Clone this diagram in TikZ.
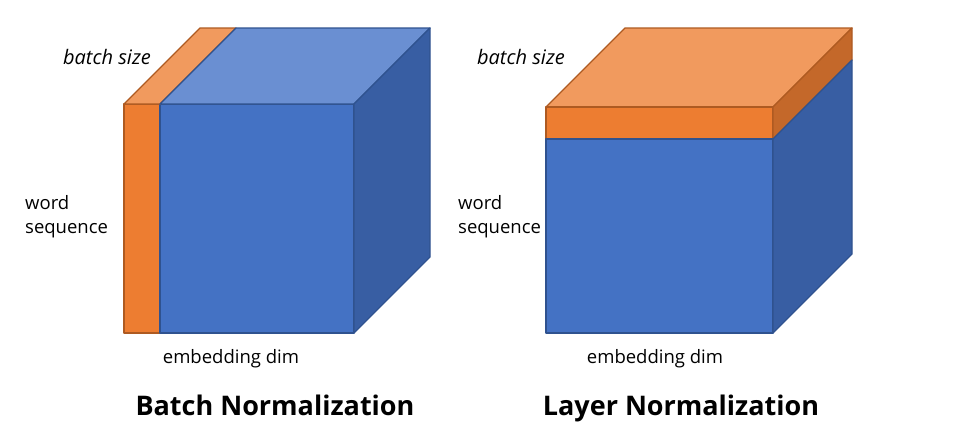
\documentclass[tikz,border=0pt]{standalone}
\usepackage{fontspec}
\setmainfont{Open Sans}
\definecolor{bluefront}{HTML}{4472C4}
\definecolor{bluetop}{HTML}{6A8FD2}
\definecolor{blueside}{HTML}{385EA3}
\definecolor{blueedge}{HTML}{2F528F}
\definecolor{orangefront}{HTML}{ED7D31}
\definecolor{orangetop}{HTML}{F19A5E}
\definecolor{orangeside}{HTML}{C4682A}
\definecolor{orangeedge}{HTML}{AE5A21}

\tikzset{
  bluepart/.style={fill=#1,draw=blueedge,line width=1.3pt,line join=round},
  orangepart/.style={fill=#1,draw=orangeedge,line width=1.3pt,line join=round},
  axislabel/.style={font=\fontsize{18.5}{24}\selectfont,inner sep=0pt},
  titlelabel/.style={font=\fontsize{27}{32}\selectfont\bfseries,inner sep=0pt,anchor=base}
}

\begin{document}
\begin{tikzpicture}[x=1pt,y=-1pt]
  \useasboundingbox (0,0) rectangle (959,440);

  % batch normalization cube
  \pgfmathsetmacro{\dL}{76}
  \draw[orangepart=orangefront] (124,104) rectangle (160,333);
  \draw[bluepart=bluefront] (160,104) rectangle (354,333);
  \draw[orangepart=orangetop] (124,104) -- ++(\dL,-\dL) -- (236,28) -- (160,104) -- cycle;
  \draw[bluepart=bluetop] (160,104) -- (236,28) -- (430,28) -- (354,104) -- cycle;
  \draw[bluepart=blueside] (354,104) -- ++(\dL,-\dL) -- (430,257) -- (354,333) -- cycle;

  % layer normalization cube
  \pgfmathsetmacro{\dR}{79}
  \draw[orangepart=orangetop] (546,107) -- ++(\dR,-\dR) -- (852,28) -- (773,107) -- cycle;
  \draw[orangepart=orangefront] (546,107) rectangle (773,139);
  \draw[orangepart=orangeside] (773,107) -- ++(\dR,-\dR) -- (852,60) -- (773,139) -- cycle;
  \draw[bluepart=bluefront] (546,139) rectangle (773,333);
  \draw[bluepart=blueside] (773,139) -- (852,60) -- (852,254) -- (773,333) -- cycle;

  % labels
  \node[axislabel,font=\fontsize{20}{24}\selectfont\itshape] (bsL) at (107,57) {batch size};
  \node[axislabel,font=\fontsize{20}{24}\selectfont\itshape] (bsR) at (521,57) {batch size};
  \node[axislabel,anchor=west,align=left] (wsL) at (25,217) {word\\sequence};
  \node[axislabel,anchor=west,align=left] (wsR) at (458,217) {word\\sequence};
  \node[axislabel] (edL) at (231,359) {embedding dim};
  \node[axislabel] (edR) at (655,359) {embedding dim};
  \node[titlelabel] (titleL) at (275,415) {Batch Normalization};
  \node[titlelabel] (titleR) at (681,415) {Layer Normalization};
\end{tikzpicture}
\end{document}
